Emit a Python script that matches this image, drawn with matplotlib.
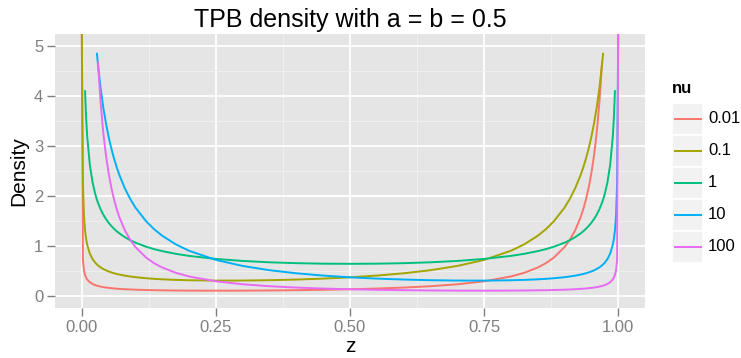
import numpy as np
import matplotlib
matplotlib.use("Agg")
import matplotlib.pyplot as plt
from matplotlib.patches import Rectangle
from matplotlib.lines import Line2D

inf = np.inf
nan = np.nan

# ---- data ----
z = [0, 0.002, 0.004, 0.006, 0.008, 0.01, 0.015, 0.02, 0.025, 0.028, 0.03,
     0.035, 0.04, 0.045, 0.05, 0.055, 0.06, 0.065, 0.07, 0.08, 0.09, 0.1, 0.12,
     0.135, 0.15, 0.175, 0.2, 0.25, 0.3, 0.35, 0.4, 0.45, 0.5,
     0.55, 0.6, 0.65, 0.7, 0.75, 0.8, 0.825, 0.85, 0.865, 0.88, 0.9, 0.91,
     0.92, 0.93, 0.935, 0.94, 0.945, 0.95, 0.955, 0.96, 0.965, 0.97, 0.972,
     0.975, 0.98, 0.985, 0.99, 0.992, 0.994, 0.996, 0.998, 1]

nu_labels = ["0.01", "0.1", "1", "10", "100"]
nu_colors = ["#F8766D", "#A3A500", "#00BF7D", "#00B0F6", "#E76BF3"]

dens_nu_0_01 = [inf, 0.7139, 0.5063, 0.4146, 0.3602, 0.3231, 0.2658, 0.2320,
                0.2091, 0.1984, 0.1923, 0.1794, 0.1691, 0.1607, 0.1537, 0.1477,
                0.1425, 0.1380, 0.1340, 0.1274, 0.1221, 0.1178, 0.1112, 0.1075,
                0.1047, 0.1013, 0.0992, 0.0977, 0.0988, 0.1021, 0.1076, 0.1154,
                0.1261,
                0.1405, 0.1600, 0.1872, 0.2263, 0.2855, 0.3826, 0.4572, 0.5624,
                0.6484, 0.7605, 0.9734, 1.1224, 1.3154, 1.5732, 1.7366, 1.9313,
                2.1664, 2.4546, 2.8148, 3.2749, 3.8791, 4.7002,
                nan, nan, nan, nan, nan, nan, nan, nan, nan, inf]

dens_nu_0_1 = [inf, 2.2571, 1.6005, 1.3105, 1.1381, 1.0208, 0.8394, 0.7322,
               0.6596, 0.6259, 0.6064, 0.5655, 0.5329, 0.5061, 0.4836, 0.4645,
               0.4480, 0.4337, 0.4210, 0.3998, 0.3827, 0.3687, 0.3473, 0.3353,
               0.3259, 0.3144, 0.3069, 0.2999, 0.3009, 0.3081, 0.3210, 0.3401,
               0.3660,
               0.4007, 0.4467, 0.5085, 0.5937, 0.7153, 0.8987, 1.0288, 1.1996,
               1.3298, 1.4892, 1.7659, 1.9433, 2.1572, 2.4203, 2.5761, 2.7523,
               2.9533, 3.1852, 3.4560, 3.7770, 4.1651, 4.6462, 4.8734,
               nan, nan, nan, nan, nan, nan, nan, nan, inf]

dens_nu_1 = [inf, nan, nan, 4.1217, 3.5732, 3.1991, 2.6187, 2.2736, 2.0388,
             1.9295, 1.8660, 1.7320, 1.6244, 1.5355, 1.4605, 1.3962, 1.3403,
             1.2912, 1.2476, 1.1733, 1.1123, 1.0610, 0.9795, 0.9315, 0.8915,
             0.8377, 0.7958, 0.7351, 0.6946, 0.6674, 0.6498, 0.6398, 0.6366,
             0.6398, 0.6498, 0.6674, 0.6946, 0.7351, 0.7958, 0.8377, 0.8915,
             0.9315, 0.9795, 1.0610, 1.1123, 1.1733, 1.2476, 1.2912, 1.3403,
             1.3962, 1.4605, 1.5355, 1.6244, 1.7320, 1.8660, 1.9295, 2.0388,
             2.2736, 2.6187, 3.1991, 3.5732, 4.1217, nan, nan, inf]

dens_nu_10 = [inf, nan, nan, nan, nan, nan, nan, nan, nan, 4.8734, 4.6462,
              4.1651, 3.7770, 3.4560, 3.1852, 2.9533, 2.7523, 2.5761, 2.4203,
              2.1572, 1.9433, 1.7659, 1.4892, 1.3298, 1.1996, 1.0288, 0.8987,
              0.7153, 0.5937, 0.5085, 0.4467, 0.4007, 0.3660,
              0.3401, 0.3210, 0.3081, 0.3009, 0.2999, 0.3069, 0.3144, 0.3259,
              0.3353, 0.3473, 0.3687, 0.3827, 0.3998, 0.4210, 0.4337, 0.4480,
              0.4645, 0.4836, 0.5061, 0.5329, 0.5655, 0.6064, 0.6259, 0.6596,
              0.7322, 0.8394, 1.0208, 1.1381, 1.3105, 1.6005, 2.2571, inf]

dens_nu_100 = [inf, nan, nan, nan, nan, nan, nan, nan, nan, nan, 4.7002,
               3.8791, 3.2749, 2.8148, 2.4546, 2.1664, 1.9313, 1.7366, 1.5732,
               1.3154, 1.1224, 0.9734, 0.7605, 0.6484, 0.5624, 0.4572, 0.3826,
               0.2855, 0.2263, 0.1872, 0.1600, 0.1405, 0.1261,
               0.1154, 0.1076, 0.1021, 0.0988, 0.0977, 0.0992, 0.1013, 0.1047,
               0.1075, 0.1112, 0.1178, 0.1221, 0.1274, 0.1340, 0.1380, 0.1425,
               0.1477, 0.1537, 0.1607, 0.1691, 0.1794, 0.1923, 0.1984, 0.2091,
               0.2320, 0.2658, 0.3231, 0.3602, 0.4146, 0.5063, 0.7139, inf]

series = [dens_nu_0_01, dens_nu_0_1, dens_nu_1, dens_nu_10, dens_nu_100]

x_ticks = [0, 0.25, 0.5, 0.75, 1.0]
x_tick_labels = ["0.00", "0.25", "0.50", "0.75", "1.00"]
y_ticks = [0, 1, 2, 3, 4, 5]
y_tick_labels = ["0", "1", "2", "3", "4", "5"]

# ---- figure ----
plt.rcParams["font.family"] = ["Liberation Sans", "DejaVu Sans"]
W, H = 741, 358
fig = plt.figure(figsize=(W / 100, H / 100), dpi=100)


def fx(px):
    return px / W


def fy(py):
    return 1 - py / H


P_L, P_R, P_T, P_B = 55, 645, 34, 308
ax = fig.add_axes([fx(P_L), fy(P_B), (P_R - P_L) / W, (P_B - P_T) / H])
ax.set_facecolor("#E5E5E5")
for s in ax.spines.values():
    s.set_visible(False)

xlim = (-0.05, 1.05)
ylim = (-0.25, 5.25)
ax.set_xlim(xlim)
ax.set_ylim(ylim)
ax.set_xticks(x_ticks)
ax.set_xticklabels(x_tick_labels)
ax.set_yticks(y_ticks)
ax.set_yticklabels(y_tick_labels)
ax.set_xticks([0.125, 0.375, 0.625, 0.875], minor=True)
ax.set_yticks([0.5, 1.5, 2.5, 3.5, 4.5], minor=True)
ax.set_axisbelow(True)
ax.grid(which="major", color="white", lw=1.3)
ax.grid(which="minor", color="#F2F2F2", lw=0.6)
ax.tick_params(which="major", length=5.5, width=1.0, color="#7F7F7F",
               labelcolor="#7F7F7F", labelsize=12, pad=3)
ax.tick_params(which="minor", length=0)

for y, c in zip(series, nu_colors):
    y = np.array(y, dtype=float)
    y = np.where(np.isinf(y), ylim[1], y)  # infinite values drawn at panel edge
    ax.plot(z, y, color=c, lw=1.4, solid_capstyle="butt",
            solid_joinstyle="round")

# titles
fig.text(fx((P_L + P_R) / 2), fy(27), "TPB density with a = b = 0.5",
         ha="center", va="baseline", fontsize=18, color="black")
fig.text(fx((P_L + P_R) / 2), fy(352.5), "z", ha="center", va="baseline",
         fontsize=15, color="black")
fig.text(fx(19), fy((P_T + P_B) / 2), "Density", ha="center", va="center",
         rotation=90, fontsize=15, color="black")

# legend
fig.text(fx(672), fy(93), "nu", ha="left", va="baseline", fontsize=12,
         fontweight="bold", color="black")
key_top0 = 102.7
key_h = 32.0
for i, (lab, c) in enumerate(zip(nu_labels, nu_colors)):
    top = key_top0 + i * key_h
    fig.patches.append(Rectangle((fx(672), fy(top + key_h)), 31 / W, key_h / H,
                                 transform=fig.transFigure, facecolor="#F2F2F2",
                                 edgecolor="white", lw=1.3))
    fig.lines.append(Line2D([fx(674.5), fx(700.5)], [fy(top + key_h / 2)] * 2,
                            transform=fig.transFigure, color=c, lw=1.4))
    fig.text(fx(708), fy(top + key_h / 2), lab, ha="left", va="center",
             fontsize=12, color="black")

fig.savefig("out.png", dpi=100)
